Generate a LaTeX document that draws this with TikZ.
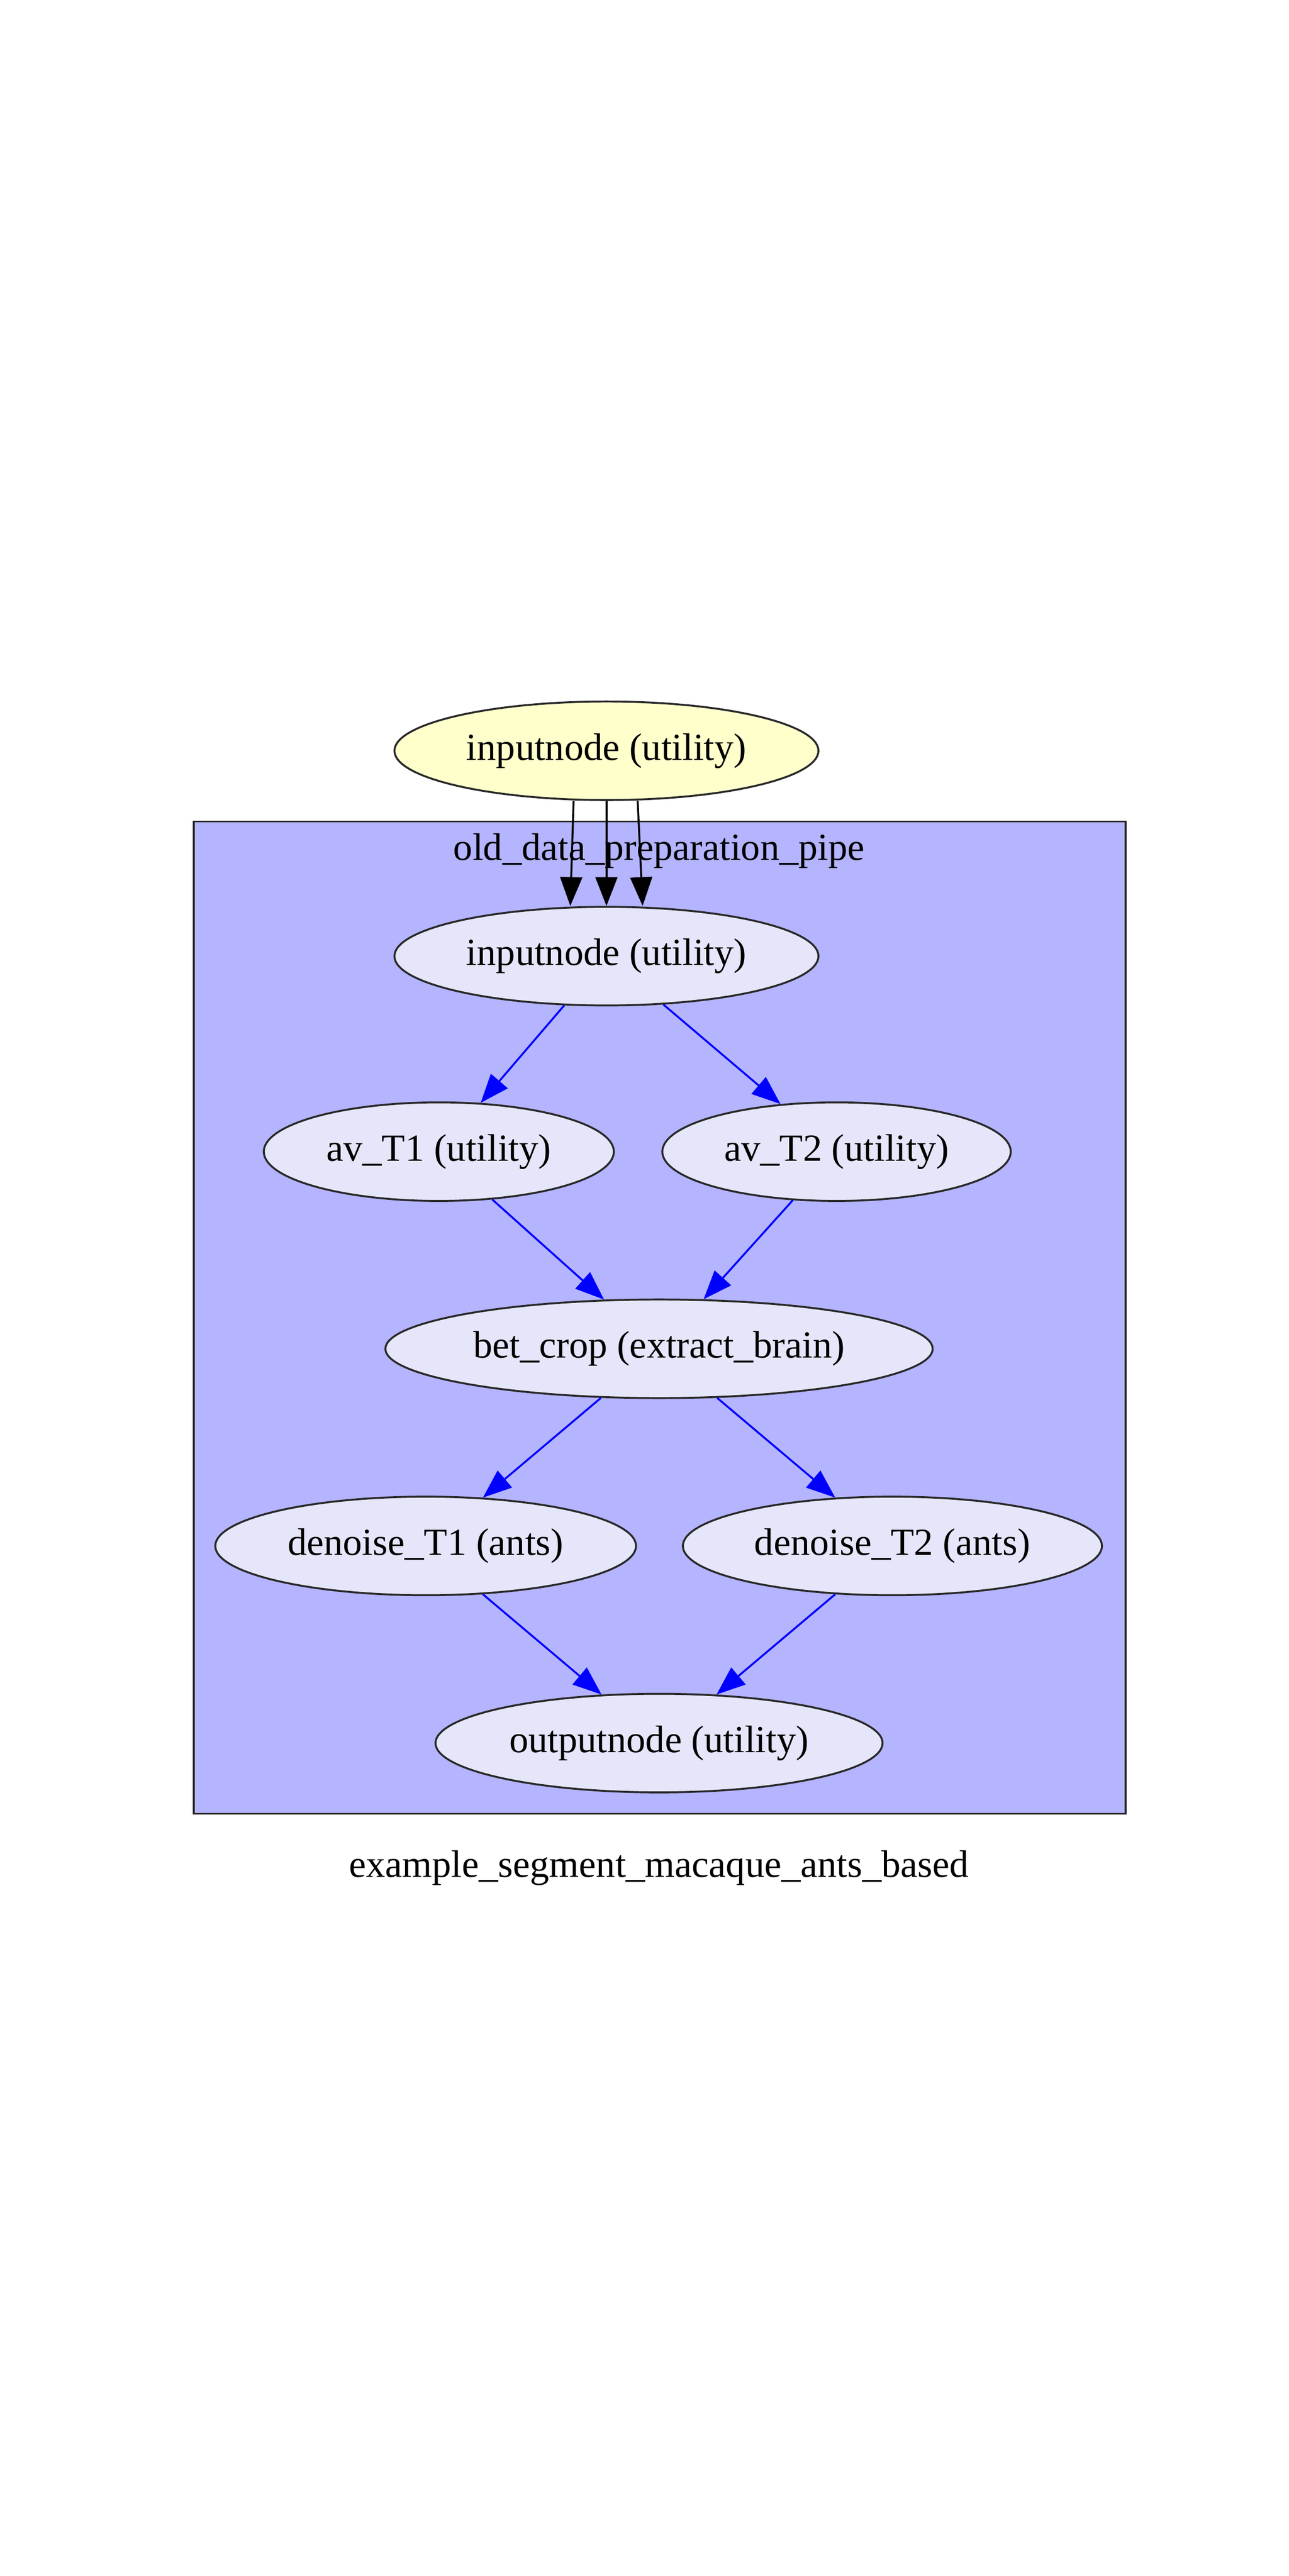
\documentclass[tikz,border=0pt]{standalone}
\usepackage{fontspec}
\setmainfont{Liberation Serif}
\usetikzlibrary{shapes.geometric,arrows.meta}

\definecolor{clusterblue}{RGB}{180,180,255}
\definecolor{nodelavender}{RGB}{230,230,250}
\definecolor{inyellow}{RGB}{255,255,204}
\definecolor{rimgray}{RGB}{40,40,40}

\tikzset{
  proc/.style={ellipse,draw=rimgray,line width=0.7pt,fill=nodelavender,inner sep=0pt,
    minimum height=36pt,font=\fontsize{14}{16}\selectfont},
  plain/.style={inner sep=0pt,font=\fontsize{14}{16}\selectfont},
  flow/.style={draw=blue,line width=0.7pt,-{Triangle[length=10.5pt,width=8pt]}},
  feed/.style={draw=black,line width=0.7pt,-{Triangle[length=10.5pt,width=8pt]}}
}

\begin{document}
\begin{tikzpicture}[x=0.6pt,y=-0.6pt]

    \useasboundingbox (0,0) rectangle (784,1568);

    % the cluster box
    \draw[draw=rimgray,line width=0.7pt,fill=clusterblue] (118,500) rectangle (685,1104);
    \node[plain] (pipelabel) at (401,518) {old\_data\_preparation\_pipe};

    % these are the nodes
    \node[proc,fill=inyellow,minimum width=154.8pt] (topin) at (369,457) {inputnode (utility)};
    \node[proc,minimum width=154.8pt] (inputnode) at (369,582) {inputnode (utility)};
    \node[proc,minimum width=127.8pt] (avT1) at (267,701) {av\_T1 (utility)};
    \node[proc,minimum width=127.2pt] (avT2) at (509,701) {av\_T2 (utility)};
    \node[proc,minimum width=199.8pt] (betcrop) at (401,821) {bet\_crop (extract\_brain)};
    \node[proc,minimum width=153.6pt] (denoiseT1) at (259,941) {denoise\_T1 (ants)};
    \node[proc,minimum width=153pt] (denoiseT2) at (543,941) {denoise\_T2 (ants)};
    \node[proc,minimum width=163.2pt] (outputnode) at (401,1061) {outputnode (utility)};

    \node[plain] (caption) at (401,1137) {example\_segment\_macaque\_ants\_based};

    % edges into the pipe
    \draw[feed] ([xshift=-12pt]topin.south) -- ([xshift=-13.2pt]inputnode.north);
    \draw[feed] (topin.south) -- (inputnode.north);
    \draw[feed] ([xshift=11.4pt]topin.south) -- ([xshift=13.2pt]inputnode.north);

    % edges inside the pipe
    \draw[flow] (inputnode) -- (avT1);
    \draw[flow] (inputnode) -- (avT2);
    \draw[flow] (avT1) -- (betcrop);
    \draw[flow] (avT2) -- (betcrop);
    \draw[flow] (betcrop) -- (denoiseT1);
    \draw[flow] (betcrop) -- (denoiseT2);
    \draw[flow] (denoiseT1) -- (outputnode);
    \draw[flow] (denoiseT2) -- (outputnode);

\end{tikzpicture}
\end{document}
